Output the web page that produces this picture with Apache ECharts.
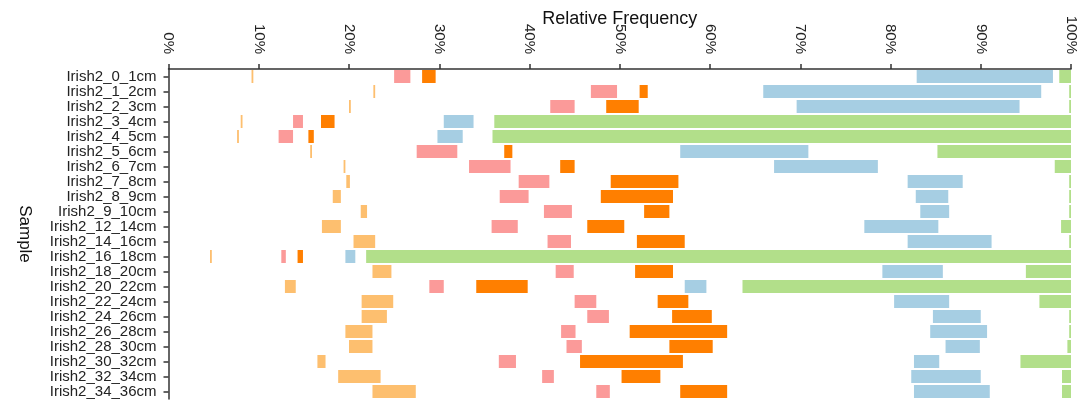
<!DOCTYPE html>
<html>
<head>
<meta charset="utf-8">
<script src="https://cdn.jsdelivr.net/npm/echarts@6/dist/echarts.min.js"></script>
<style>
  html, body { margin: 0; padding: 0; background: #fff; }
  #chart { width: 1090px; height: 405px; }
</style>
</head>
<body>
<div id="chart"></div>
<script>
var samples = ['Irish2_0_1cm', 'Irish2_1_2cm', 'Irish2_2_3cm', 'Irish2_3_4cm', 'Irish2_4_5cm',
  'Irish2_5_6cm', 'Irish2_6_7cm', 'Irish2_7_8cm', 'Irish2_8_9cm', 'Irish2_9_10cm',
  'Irish2_12_14cm', 'Irish2_14_16cm', 'Irish2_16_18cm', 'Irish2_18_20cm', 'Irish2_20_22cm',
  'Irish2_22_24cm', 'Irish2_24_26cm', 'Irish2_26_28cm', 'Irish2_28_30cm', 'Irish2_30_32cm',
  'Irish2_32_34cm', 'Irish2_34_36cm']

// [start, end] in % for each sample
var lightOrange = [[9.2, 9.4], [22.7, 22.9], [20.0, 20.2], [8.0, 8.2], [7.6, 7.8],
  [15.7, 15.9], [19.4, 19.6], [19.7, 20.1], [18.2, 19.1], [21.3, 22.0],
  [17.0, 19.1], [20.5, 22.9], [4.6, 4.8], [22.6, 24.7], [12.9, 14.1],
  [21.4, 24.9], [21.4, 24.2], [19.6, 22.6], [20.0, 22.6], [16.5, 17.4],
  [18.8, 23.5], [22.6, 27.4]]
var pink = [[25.0, 26.8], [46.8, 49.7], [42.3, 45.0], [13.8, 14.9], [12.2, 13.8],
  [27.5, 32.0], [33.3, 37.9], [38.8, 42.2], [36.7, 39.9], [41.6, 44.7],
  [35.8, 38.7], [42.0, 44.6], [12.5, 13.0], [42.9, 44.9], [28.9, 30.5],
  [45.0, 47.4], [46.4, 48.8], [43.5, 45.1], [44.1, 45.8], [36.6, 38.5],
  [41.4, 42.7], [47.4, 48.9]]
var orange = [[28.1, 29.6], [52.2, 53.1], [48.5, 52.1], [16.9, 18.4], [15.5, 16.1],
  [37.2, 38.1], [43.4, 45.0], [49.0, 56.5], [47.9, 55.9], [52.7, 55.5],
  [46.4, 50.5], [51.9, 57.2], [14.3, 14.9], [51.7, 55.9], [34.1, 39.8],
  [54.2, 57.6], [55.8, 60.2], [51.1, 61.9], [55.5, 60.3], [45.6, 57.0],
  [50.2, 54.5], [56.7, 61.9]]
var lightBlue = [[82.9, 98.0], [65.9, 96.7], [69.6, 94.3], [30.5, 33.8], [29.8, 32.6],
  [56.7, 70.9], [67.1, 78.6], [81.9, 88.0], [82.8, 86.4], [83.3, 86.5],
  [77.1, 85.3], [81.9, 91.2], [19.6, 20.7], [79.1, 85.8], [57.2, 59.6],
  [80.4, 86.5], [84.7, 90.0], [84.4, 90.7], [86.1, 89.9], [82.6, 85.4],
  [82.3, 90.0], [82.6, 91.0]]
var green = [[98.7, 100], [99.8, 100], [99.8, 100], [36.1, 100], [35.9, 100],
  [85.2, 100], [98.2, 100], [99.8, 100], [99.8, 100], [99.8, 100],
  [98.9, 100], [99.8, 100], [21.9, 100], [95.0, 100], [63.6, 100],
  [96.5, 100], [99.8, 100], [99.8, 100], [99.6, 100], [94.4, 100],
  [99.0, 100], [99.0, 100]]

var groups = [lightOrange, pink, orange, lightBlue, green]
var colors = ['#fdbf6f', '#fb9a99', '#ff7f00', '#a6cee3', '#b2df8a']

var font = 'Liberation Sans, Arial, sans-serif'

// stacked bars: an invisible gap, then the coloured piece
var series = []
var prev = samples.map(function () { return 0 })
groups.forEach(function (g, k) {
  var gaps = g.map(function (d, i) { return +(d[0] - prev[i]).toFixed(2) })
  var segs = g.map(function (d) { return +(d[1] - d[0]).toFixed(2) })
  g.forEach(function (d, i) { prev[i] = d[1] })
  series.push({
    type: 'bar', stack: 'all', barWidth: 13, silent: true,
    itemStyle: { color: 'rgba(0,0,0,0)' },
    data: gaps
  })
  series.push({
    type: 'bar', stack: 'all', barWidth: 13,
    itemStyle: { color: colors[k] },
    data: segs
  })
})

var chart = echarts.init(document.getElementById('chart'))
chart.setOption({
  animation: false,
  grid: { left: 168.5, right: 19, top: 69, height: 330, outerBoundsMode: 'none' },
  xAxis: {
    type: 'value', position: 'top', min: 0, max: 100, interval: 10,
    name: 'Relative Frequency', nameLocation: 'middle', nameGap: 41, nameMoveOverlap: false,
    nameTextStyle: { fontFamily: font, fontSize: 18, color: '#111' },
    axisLine: { show: true, lineStyle: { color: '#333', width: 1.5 } },
    axisTick: { show: true, length: 5, lineStyle: { color: '#333', width: 1.5 } },
    axisLabel: { formatter: '{value}%', rotate: 90, margin: 15, fontFamily: font, fontSize: 15, color: '#222' },
    splitLine: { show: false }
  },
  yAxis: {
    type: 'category', data: samples, inverse: true,
    name: 'Sample', nameLocation: 'middle', nameGap: 135, nameRotate: -90,
    nameTextStyle: { fontFamily: font, fontSize: 17, color: '#111' },
    axisLine: { show: true, lineStyle: { color: '#333', width: 1.5 } },
    axisTick: { show: true, alignWithLabel: true, length: 5, lineStyle: { color: '#333', width: 1.5 } },
    axisLabel: { interval: 0, margin: 12, fontFamily: font, fontSize: 15, color: '#222' }
  },
  series: series
})
</script>
</body>
</html>
